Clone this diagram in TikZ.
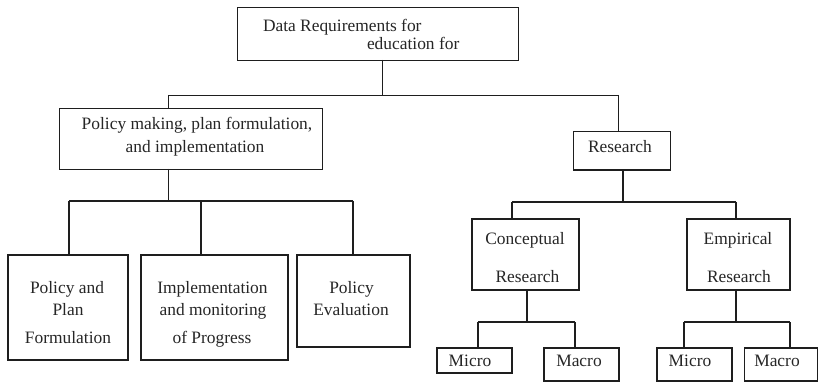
\documentclass[tikz,border=0pt]{standalone}
\usepackage{fontspec}
\setmainfont{Liberation Serif}
\begin{document}
\begin{tikzpicture}[x=1pt,y=-1pt,
  every node/.style={inner sep=0pt, outer sep=0pt},
  thinbox/.style={draw=ink, line width=0.9pt, rectangle},
  thickbox/.style={draw=ink, line width=1.8pt, rectangle},
  thinline/.style={draw=ink, line width=0.9pt},
  thickline/.style={draw=ink, line width=1.8pt},
  lbl/.style={anchor=base, text=txt, font=\fontsize{17.4}{21}\selectfont}
]
\definecolor{ink}{HTML}{1E1E1E}
\definecolor{txt}{HTML}{262626}
\useasboundingbox (0,0) rectangle (819,382);
\fill[white] (0,0) rectangle (819,382);

% ---- boxes ----
\node[thinbox, minimum width=281pt, minimum height=53pt] (top) at (377.5,33.5) {};
\node[thinbox, minimum width=263pt, minimum height=61pt] (pol) at (190.5,138.5) {};
\node[thinbox, minimum width=97pt, minimum height=39pt] (res) at (621.5,150.5) {};
\draw[thickline] (res.south west) -- (res.south east);

\node[thickbox, minimum width=120pt, minimum height=105pt] (b1) at (68,307.5) {};
\node[thickbox, minimum width=147pt, minimum height=105pt] (b2) at (214.5,307.5) {};
\node[thickbox, minimum width=113pt, minimum height=92pt] (b3) at (353.5,301) {};

\node[thickbox, minimum width=107pt, minimum height=71pt] (con) at (525.5,254.5) {};
\node[thickbox, minimum width=103pt, minimum height=71pt] (emp) at (738.5,254.5) {};

\node[thickbox, minimum width=75pt, minimum height=25pt] (mi1) at (474.5,360.5) {};
\node[thickbox, minimum width=75pt, minimum height=33pt] (ma1) at (581.5,364.5) {};
\node[thickbox, minimum width=75pt, minimum height=33pt] (mi2) at (694.5,364.5) {};
\node[thickbox, minimum width=73pt, minimum height=33pt] (ma2) at (781,364.5) {};

% ---- labels ----
\node[lbl, anchor=base west] (t1) at (263,32) {Data Requirements for};
\node[lbl, anchor=base west] (t2) at (367,50) {education for};

\node[lbl] (p1) at (197,130) {Policy making, plan formulation,};
\node[lbl] (p2) at (195,153) {and implementation};

\node[lbl] (r0) at (620,153) {Research};

\node[lbl] (a1) at (67,293) {Policy and};
\node[lbl] (a2) at (68,315) {Plan};
\node[lbl] (a3) at (68,343) {Formulation};

\node[lbl] (c1) at (212.5,293) {Implementation};
\node[lbl] (c2) at (213,315) {and monitoring};
\node[lbl] (c3) at (212,343) {of Progress};

\node[lbl] (e1) at (351.5,293) {Policy};
\node[lbl] (e2) at (351,315) {Evaluation};

\node[lbl] (k1) at (525,244) {Conceptual};
\node[lbl] (k2) at (527.5,282) {Research};
\node[lbl] (m1) at (738,244) {Empirical};
\node[lbl] (m2) at (739,282) {Research};

\node[lbl] (x1) at (470,366) {Micro};
\node[lbl] (x2) at (579,366) {Macro};
\node[lbl] (x3) at (690,366) {Micro};
\node[lbl] (x4) at (777,366) {Macro};

% ---- connectors ----
\coordinate (jA) at (382,95);
\coordinate (dPol) at (168,95);
\coordinate (dRes) at (618,95);
\draw[thinline] (top.south -| jA) -- (jA);
\draw[thinline] (dPol) -- (dRes);
\draw[thinline] (dPol) -- (pol.north -| dPol);
\draw[thinline] (dRes) -- (res.north -| dRes);

\coordinate (jB) at (168,201);
\coordinate (dB1) at (69,201);
\coordinate (dB2) at (201,201);
\coordinate (dB3) at (353,201);
\draw[thinline] (pol.south -| jB) -- (jB);
\draw[thickline] (dB1) -- (dB3);
\draw[thickline] (dB1) -- (b1.north -| dB1);
\draw[thickline] (dB2) -- (b2.north -| dB2);
\draw[thickline] (dB3) -- (b3.north -| dB3);

\coordinate (jC) at (623,202);
\coordinate (dCon) at (512,202);
\coordinate (dEmp) at (736,202);
\draw[thickline] (res.south -| jC) -- (jC);
\draw[thickline] (dCon) -- (dEmp);
\draw[thickline] (dCon) -- (con.north -| dCon);
\draw[thickline] (dEmp) -- (emp.north -| dEmp);

\coordinate (jD) at (527,322);
\coordinate (dMi1) at (478,322);
\coordinate (dMa1) at (575,322);
\draw[thickline] (con.south -| jD) -- (jD);
\draw[thickline] (dMi1) -- (dMa1);
\draw[thickline] (dMi1) -- (mi1.north -| dMi1);
\draw[thickline] (dMa1) -- (ma1.north -| dMa1);

\coordinate (jE) at (736,322);
\coordinate (dMi2) at (684,322);
\coordinate (dMa2) at (790,322);
\draw[thickline] (emp.south -| jE) -- (jE);
\draw[thickline] (dMi2) -- (dMa2);
\draw[thickline] (dMi2) -- (mi2.north -| dMi2);
\draw[thickline] (dMa2) -- (ma2.north -| dMa2);
\end{tikzpicture}
\end{document}
